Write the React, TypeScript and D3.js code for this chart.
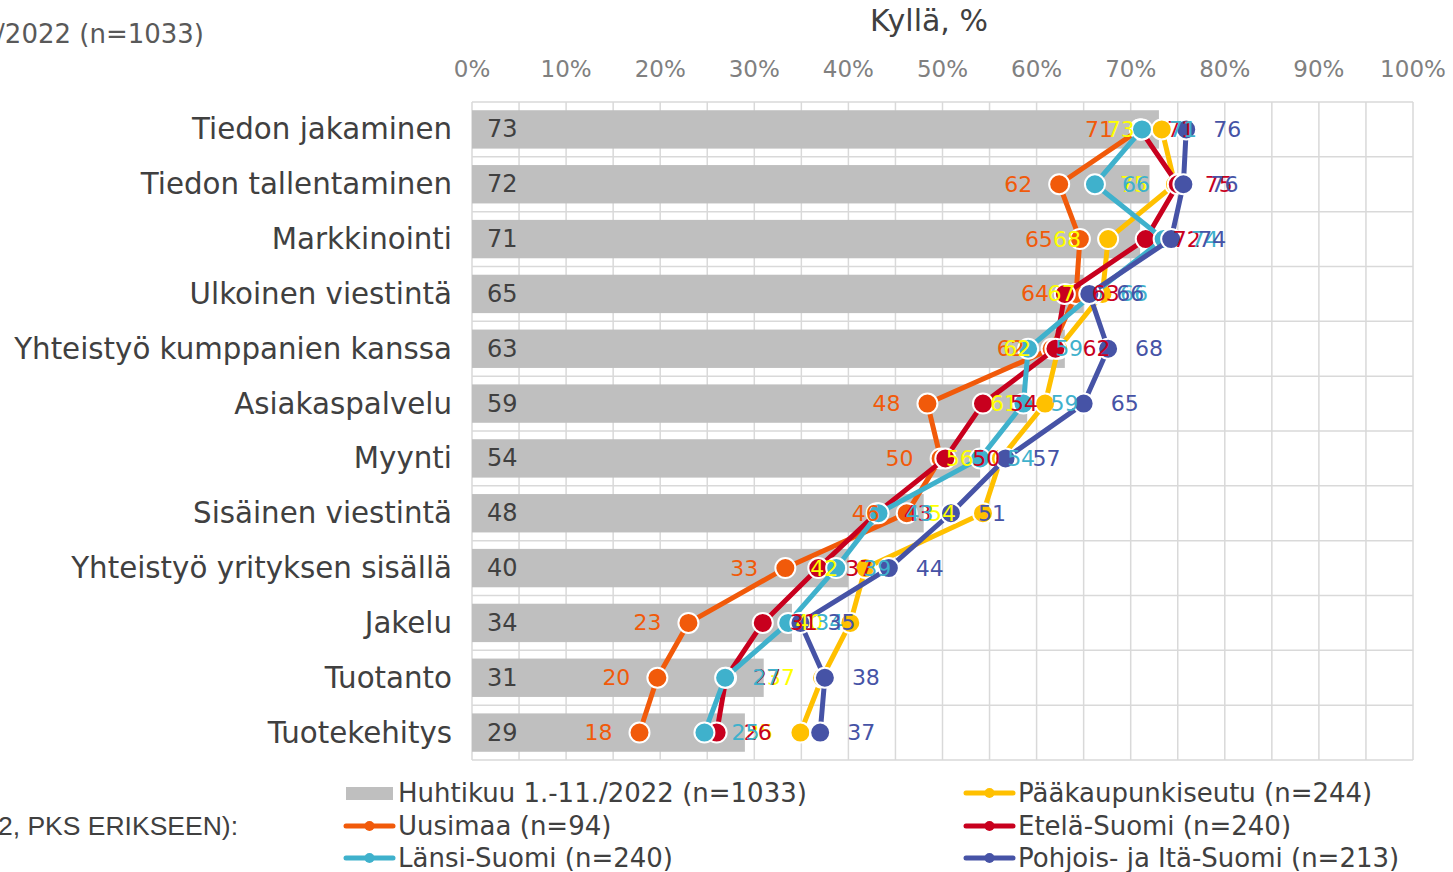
import React from "react";
import * as d3 from "d3";

const categories = [
  "Tiedon jakaminen",
  "Tiedon tallentaminen",
  "Markkinointi",
  "Ulkoinen viestintä",
  "Yhteistyö kumppanien kanssa",
  "Asiakaspalvelu",
  "Myynti",
  "Sisäinen viestintä",
  "Yhteistyö yrityksen sisällä",
  "Jakelu",
  "Tuotanto",
  "Tuotekehitys",
];

const totalValues = [73, 72, 71, 65, 63, 59, 54, 48, 40, 34, 31, 29];
const uusimaaValues = [71, 62.4, 64.6, 64.2, 61.6, 48.4, 49.8, 46.2, 33.3, 23, 19.7, 17.8];
const pksValues = [73.3, 74.7, 67.6, 67, 62.3, 60.9, 56.2, 54.3, 41.8, 40.2, 37.2, 34.9];
const etelaValues = [71, 75, 71.6, 63, 62, 54.3, 50.3, 43, 36.8, 30.9, 27, 26];
const lansiValues = [71.2, 66.2, 73.5, 66, 59.1, 58.6, 54, 43.2, 38.7, 33.6, 26.9, 24.7];
const pohjoisValues = [75.9, 75.6, 74.3, 65.6, 67.6, 65, 56.7, 50.9, 44.3, 34.9, 37.5, 37];

const xTicks = [0, 10, 20, 30, 40, 50, 60, 70, 80, 90, 100];
const gridTicks = d3.range(0, 101, 5);

const totalName = "Huhtikuu 1.-11./2022 (n=1033)";

const lineSeries = [
  { name: "Uusimaa (n=94)", values: uusimaaValues, color: "#F15A0A", labelColor: "#F15A0A", side: -1 },
  { name: "Pääkaupunkiseutu (n=244)", values: pksValues, color: "#FFC000", labelColor: "#FFFF00", side: -1 },
  { name: "Etelä-Suomi (n=240)", values: etelaValues, color: "#C8001E", labelColor: "#C8001E", side: 1 },
  { name: "Länsi-Suomi (n=240)", values: lansiValues, color: "#3FB1CC", labelColor: "#3FB1CC", side: 1 },
  { name: "Pohjois- ja Itä-Suomi (n=213)", values: pohjoisValues, color: "#4653A6", labelColor: "#4653A6", side: 1 },
];

// legend layout order (two columns)
const legendCol1 = ["bar", "Uusimaa (n=94)", "Länsi-Suomi (n=240)"];
const legendCol2 = ["Pääkaupunkiseutu (n=244)", "Etelä-Suomi (n=240)", "Pohjois- ja Itä-Suomi (n=213)"];

const W = 1453;
const H = 872;
const FONT = "'DejaVu Sans', Verdana, sans-serif";

export default function App() {
  const x = d3.scaleLinear().domain([0, 100]).range([472, 1413]);
  const y = d3
    .scaleBand<string>()
    .domain(categories)
    .range([102, 760])
    .paddingInner(0.3)
    .paddingOuter(0.15);
  const step = y.step();
  const top = 102;
  const cy = (i: number) => (y(categories[i]) as number) + y.bandwidth() / 2;
  const line = d3
    .line<number>()
    .x((v) => x(v))
    .y((_, i) => cy(i));

  const legendRowY = [793, 826, 858];

  const renderLegendItem = (key: string, lx: number, ly: number) => {
    if (key === "bar") {
      return (
        <g key={key}>
          <rect x={lx} y={ly - 6} width={47} height={13} fill="#BFBFBF" />
          <text x={lx + 52} y={ly} dominantBaseline="central" fontSize={26} fill="#404040">
            {totalName}
          </text>
        </g>
      );
    }
    const s = lineSeries.find((d) => d.name === key)!;
    return (
      <g key={key}>
        <line x1={lx} x2={lx + 47} y1={ly} y2={ly} stroke={s.color} strokeWidth={5} strokeLinecap="round" />
        <circle cx={lx + 23.5} cy={ly} r={5} fill={s.color} />
        <text x={lx + 52} y={ly} dominantBaseline="central" fontSize={26} fill="#404040">
          {s.name}
        </text>
      </g>
    );
  };

  return (
    <svg
      width={W}
      height={H}
      style={{ position: "absolute", left: 0, top: 0, background: "#fff" }}
      fontFamily={FONT}
    >
      <rect x={0} y={0} width={W} height={H} fill="#fff" />
      {/* partial texts at left edge */}
      <text x={204} y={34} textAnchor="end" dominantBaseline="central" fontSize={26} fill="#595959">
        /2022 (n=1033)
      </text>
      <text
        x={238}
        y={826}
        textAnchor="end"
        dominantBaseline="central"
        fontSize={26.5}
        fill="#404040"
        fontFamily="'Liberation Sans', Arial, sans-serif"
      >
        2, PKS ERIKSEEN):
      </text>

      {/* title */}
      <text x={929} y={20} textAnchor="middle" dominantBaseline="central" fontSize={30} fill="#404040">
        Kyllä, %
      </text>

      {/* x tick labels */}
      {xTicks.map((t) => (
        <text key={t} x={x(t)} y={69} textAnchor="middle" dominantBaseline="central" fontSize={23} fill="#808080">
          {t}%
        </text>
      ))}

      {/* grid */}
      {gridTicks.map((t) => (
        <line key={"v" + t} x1={x(t)} x2={x(t)} y1={top} y2={top + step * categories.length} stroke="#D9D9D9" strokeWidth={1.5} />
      ))}
      {d3.range(categories.length + 1).map((i) => (
        <line key={"h" + i} x1={x(0)} x2={x(100)} y1={top + step * i} y2={top + step * i} stroke="#D9D9D9" strokeWidth={1.5} />
      ))}

      {/* bars */}
      {categories.map((c, i) => (
        <g key={c}>
          <rect x={x(0)} y={y(c)} width={x(totalValues[i]) - x(0)} height={y.bandwidth()} fill="#BFBFBF" />
          <text x={x(0) + 15} y={cy(i)} dominantBaseline="central" fontSize={24} fill="#404040">
            {totalValues[i]}
          </text>
          <text x={452} y={cy(i)} textAnchor="end" dominantBaseline="central" fontSize={29.3} fill="#404040">
            {c}
          </text>
        </g>
      ))}

      {/* lines and markers */}
      {lineSeries.map((s) => (
        <g key={s.name}>
          <path d={line(s.values) as string} fill="none" stroke={s.color} strokeWidth={5} strokeLinejoin="round" />
          {s.values.map((v, i) => (
            <circle key={i} cx={x(v)} cy={cy(i)} r={10} fill={s.color} stroke="#fff" strokeWidth={2} />
          ))}
        </g>
      ))}

      {/* data labels */}
      {lineSeries.map((s) => (
        <g key={"l" + s.name}>
          {s.values.map((v, i) => (
            <text
              key={i}
              x={x(v) + s.side * 41}
              y={cy(i)}
              textAnchor="middle"
              dominantBaseline="central"
              fontSize={22}
              fill={s.labelColor}
            >
              {Math.round(v)}
            </text>
          ))}
        </g>
      ))}

      {/* legend */}
      {legendCol1.map((k, i) => renderLegendItem(k, 346, legendRowY[i]))}
      {legendCol2.map((k, i) => renderLegendItem(k, 966, legendRowY[i]))}
    </svg>
  );
}
